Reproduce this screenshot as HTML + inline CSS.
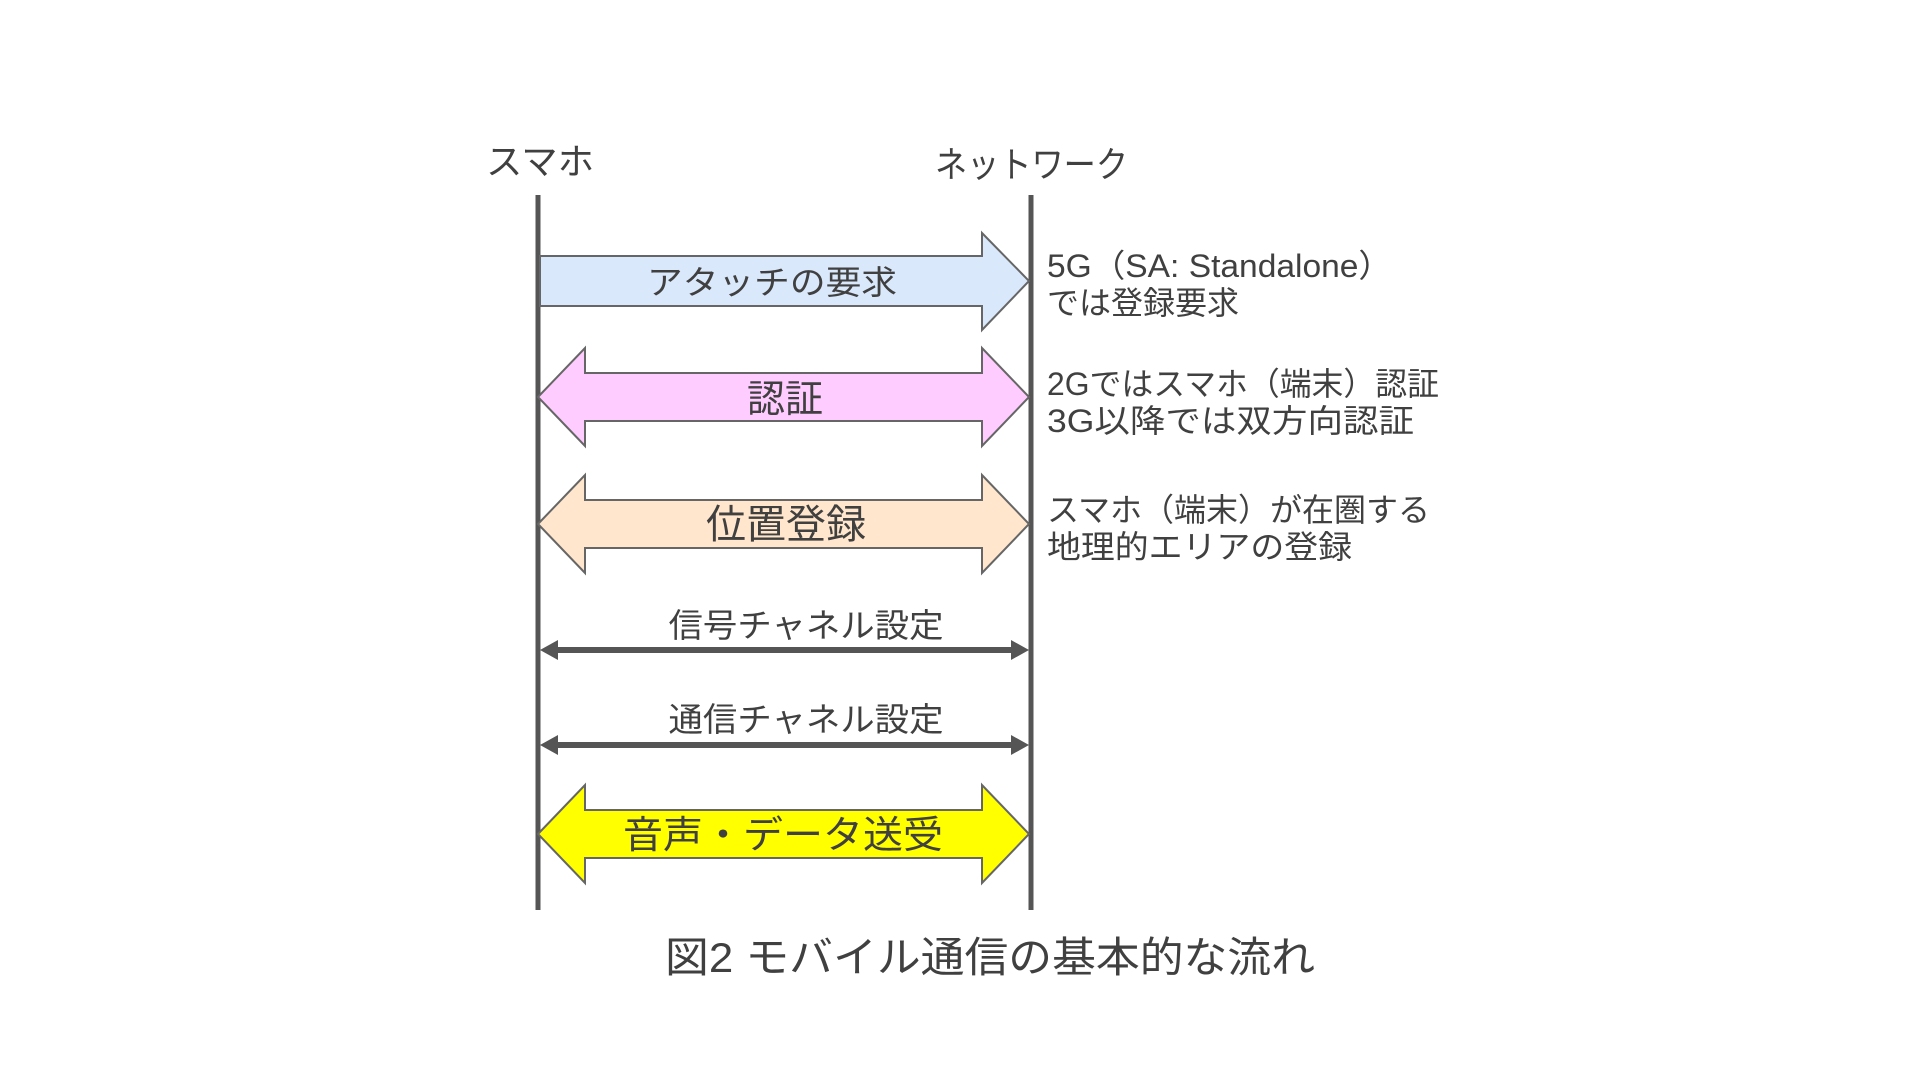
<!DOCTYPE html>
<html><head><meta charset="utf-8">
<style>
html,body{margin:0;padding:0;background:#fff;}
svg{display:block;}
text{font-family:"Liberation Sans","Noto Sans CJK JP",sans-serif;fill:#404040;}
</style></head>
<body>
<svg width="1920" height="1080" viewBox="0 0 1920 1080" xmlns="http://www.w3.org/2000/svg">
<rect width="1920" height="1080" fill="#fff"/>
<text x="486" y="174" font-size="36" textLength="108" lengthAdjust="spacingAndGlyphs">スマホ</text>
<text x="935" y="177" font-size="36" textLength="193" lengthAdjust="spacingAndGlyphs">ネットワーク</text>
<line x1="538" y1="195" x2="538" y2="910" stroke="#555" stroke-width="5"/>
<line x1="1031" y1="195" x2="1031" y2="910" stroke="#555" stroke-width="5"/>
<polygon points="540,256 982,256 982,233 1029,281 982,330 982,306 540,306" fill="#dae8fc" stroke="#666" stroke-width="2"/>
<text x="772" y="294" font-size="33" text-anchor="middle" textLength="250" lengthAdjust="spacingAndGlyphs">アタッチの要求</text>
<polygon points="538,397 585,348 585,373 982,373 982,348 1029,397 982,446 982,421 585,421 585,446" fill="#ffccff" stroke="#666" stroke-width="2"/>
<text x="785" y="412" font-size="38" text-anchor="middle">認証</text>
<polygon points="538,524 585,475 585,500 982,500 982,475 1029,524 982,573 982,548 585,548 585,573" fill="#ffe6cc" stroke="#666" stroke-width="2"/>
<text x="786" y="538" font-size="40" text-anchor="middle">位置登録</text>
<text x="806" y="637" font-size="33" text-anchor="middle" textLength="275" lengthAdjust="spacingAndGlyphs">信号チャネル設定</text>
<line x1="552" y1="650" x2="1017" y2="650" stroke="#555" stroke-width="6"/>
<polygon points="540,650 558,640 558,660" fill="#555"/>
<polygon points="1029,650 1011,640 1011,660" fill="#555"/>
<text x="806" y="731" font-size="33" text-anchor="middle" textLength="275" lengthAdjust="spacingAndGlyphs">通信チャネル設定</text>
<line x1="552" y1="745" x2="1017" y2="745" stroke="#555" stroke-width="6"/>
<polygon points="540,745 558,735 558,755" fill="#555"/>
<polygon points="1029,745 1011,735 1011,755" fill="#555"/>
<polygon points="538,834 585,785 585,810 982,810 982,785 1029,834 982,883 982,858 585,858 585,883" fill="#ffff00" stroke="#666" stroke-width="2"/>
<text x="783" y="848" font-size="38" text-anchor="middle" textLength="320" lengthAdjust="spacingAndGlyphs">音声・データ送受</text>
<g font-size="32">
<text x="1047" y="277" textLength="345" lengthAdjust="spacingAndGlyphs">5G（SA: Standalone）</text>
<text x="1047" y="314">では登録要求</text>
<text x="1047" y="395" textLength="392" lengthAdjust="spacingAndGlyphs">2Gではスマホ（端末）認証</text>
<text x="1047" y="432" textLength="367" lengthAdjust="spacingAndGlyphs">3G以降では双方向認証</text>
<text x="1047" y="521" textLength="383" lengthAdjust="spacingAndGlyphs">スマホ（端末）が在圏する</text>
<text x="1047" y="558" textLength="305" lengthAdjust="spacingAndGlyphs">地理的エリアの登録</text>
</g>
<text x="665" y="972" font-size="42" textLength="650" lengthAdjust="spacingAndGlyphs">図2  モバイル通信の基本的な流れ</text>
</svg>
</body></html>
